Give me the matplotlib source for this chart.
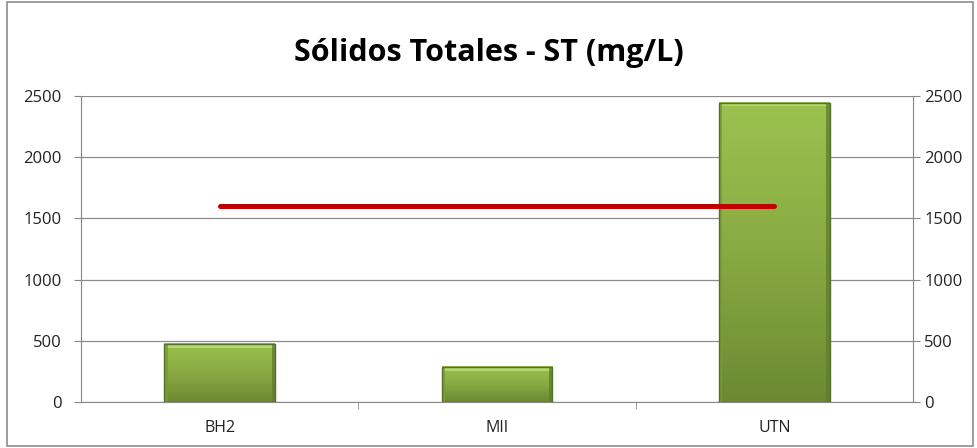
import numpy as np
import matplotlib.pyplot as plt
from matplotlib.colors import LinearSegmentedColormap
from matplotlib.patches import Rectangle

# Datos
categorias = ['BH2', 'MII', 'UTN']
st_valores = [474, 287, 2445]
limite = [1600, 1600, 1600]
yticks = [0, 500, 1000, 1500, 2000, 2500]

plt.rcParams['font.family'] = ['Open Sans', 'DejaVu Sans']

fig = plt.figure(figsize=(9.77, 4.48), dpi=100)
ax = fig.add_axes([81 / 977, 1 - 402 / 448, 832 / 977, 306 / 448])

x = np.arange(len(categorias))
barras = ax.bar(x, st_valores, width=0.40, color='none', zorder=3)

# degradado verde para cada barra
cmap = LinearSegmentedColormap.from_list('verde', ['#6b8a32', '#88aa42', '#9cc24f'])
grad = np.linspace(0, 1, 256).reshape(-1, 1)
for b in barras:
    x0, y0 = b.get_x(), b.get_y()
    w, h = b.get_width(), b.get_height()
    ax.imshow(grad, cmap=cmap, origin='lower', aspect='auto',
              extent=(x0, x0 + w, y0, y0 + h), zorder=3)
    # bisel superior claro y bordes laterales
    ax.add_patch(Rectangle((x0, y0 + h - 30), w, 30, color='#b7d86c', lw=0, zorder=4))
    ax.add_patch(Rectangle((x0, y0), 0.012, h, color='#7a9a3a', lw=0, zorder=4, alpha=0.8))
    ax.add_patch(Rectangle((x0 + w - 0.012, y0), 0.012, h, color='#617f2c', lw=0, zorder=4, alpha=0.8))
    ax.add_patch(Rectangle((x0, y0), w, h, fill=False, ec='#55702a', lw=1, zorder=5))

# línea de límite
ax.plot(x, limite, color='#c00000', lw=3.6, solid_capstyle='round', zorder=6)

ax.set_xlim(-0.5, 2.5)
ax.set_ylim(0, 2500)
ax.set_yticks(yticks)
ax.set_xticks(x)
ax.set_xticklabels(categorias)
ax.set_xticks([0.5, 1.5], minor=True)
ax.tick_params(axis='x', which='major', length=0, pad=13, labelsize=11.5, labelcolor='#222222')
ax.tick_params(axis='x', which='minor', length=5, color='#888888', direction='out')
ax.tick_params(axis='y', length=5, color='#888888', labelcolor='#222222', labelsize=12, pad=9)
ax.grid(axis='y', color='#8c8c8c', lw=0.9, zorder=0)
ax.set_axisbelow(True)
for s in ['top', 'right']:
    ax.spines[s].set_visible(False)
ax.spines['left'].set_color('#888888')
ax.spines['bottom'].set_color('#888888')

ax2 = ax.twinx()
ax2.set_ylim(0, 2500)
ax2.set_yticks(yticks)
ax2.tick_params(axis='y', length=5, color='#888888', labelcolor='#222222', labelsize=12, pad=3)
for s in ['top', 'left', 'bottom']:
    ax2.spines[s].set_visible(False)
ax2.spines['right'].set_color('#888888')

fig.text(0.5, 1 - 53 / 448, 'Sólidos Totales - ST (mg/L)', ha='center', va='center',
         fontsize=22, fontweight='bold', color='black')

# marco exterior
fig.patches.append(Rectangle((7 / 977, 2 / 448), 966 / 977, 444 / 448, transform=fig.transFigure,
                             fill=False, ec='#8c8c8c', lw=1.2))

fig.savefig('out.png', dpi=100)
